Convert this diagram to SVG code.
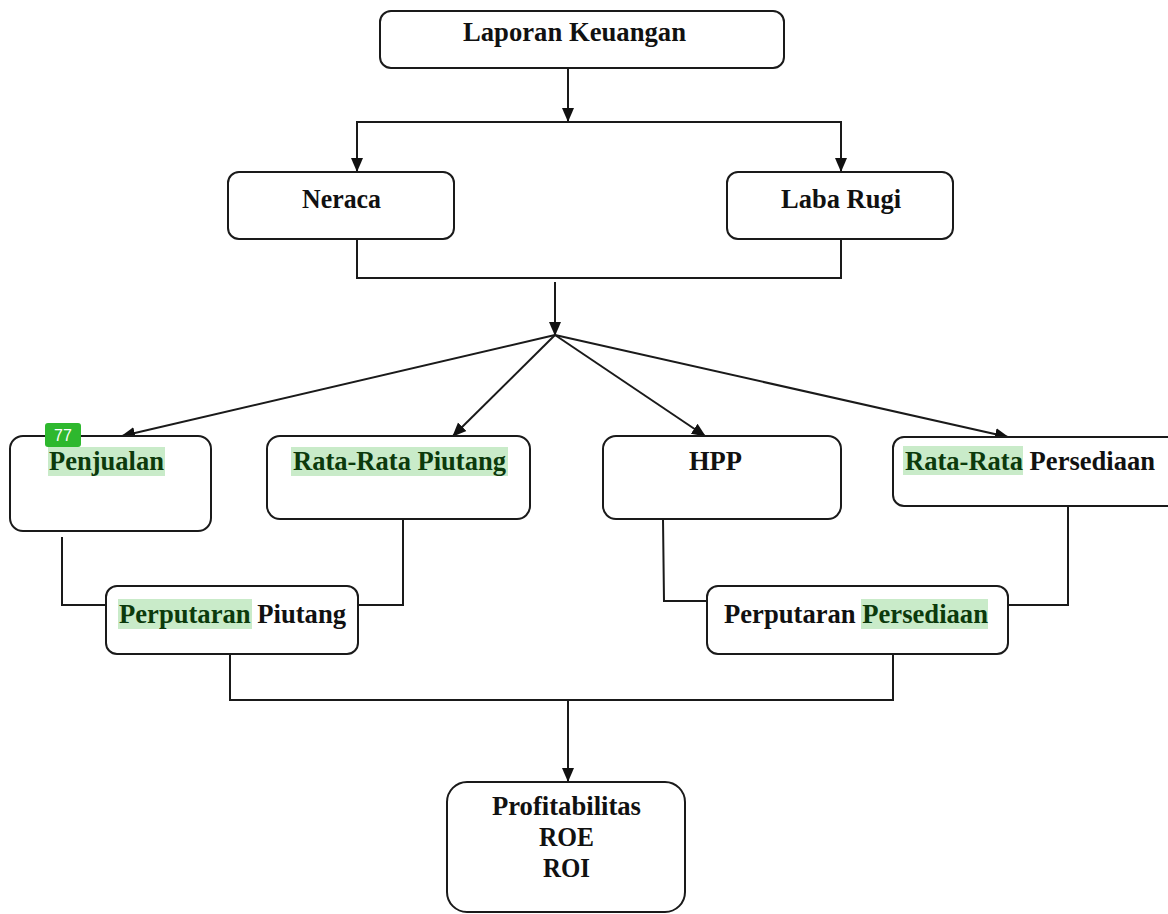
<svg xmlns="http://www.w3.org/2000/svg" width="1168" height="914" viewBox="0 0 1168 914">
<style>
.box{fill:#fff;stroke:#1a1a1a;stroke-width:2}
.ln{fill:none;stroke:#1a1a1a;stroke-width:2}
.t{font-family:"Liberation Serif","Times New Roman",serif;font-weight:bold;font-size:26.5px;fill:#111}
.hl{fill:#c9ebc9}
.g{fill:#0c3a0c}
</style>
<defs>
<marker id="ah" viewBox="0 0 14 14" refX="13" refY="7" markerWidth="14" markerHeight="14" markerUnits="userSpaceOnUse" orient="auto">
<path d="M0,1 L14,7 L0,13 Z" fill="#111"/>
</marker>
</defs>
<rect width="1168" height="914" fill="#fff"/>
<g id="connectors">
<line class="ln" x1="568" y1="68" x2="568" y2="121" marker-end="url(#ah)"/>
<polyline class="ln" points="357,160 357,122 841,122 841,160"/>
<line class="ln" x1="357" y1="122" x2="357" y2="171" marker-end="url(#ah)"/>
<line class="ln" x1="841" y1="122" x2="841" y2="171" marker-end="url(#ah)"/>
<polyline class="ln" points="357,239 357,278 841,278 841,239"/>
<line class="ln" x1="555" y1="282" x2="555" y2="335" marker-end="url(#ah)"/>
<line class="ln" x1="555" y1="335" x2="122" y2="436" marker-end="url(#ah)"/>
<line class="ln" x1="555" y1="335" x2="453" y2="436" marker-end="url(#ah)"/>
<line class="ln" x1="555" y1="335" x2="705" y2="436" marker-end="url(#ah)"/>
<line class="ln" x1="555" y1="335" x2="1008" y2="437" marker-end="url(#ah)"/>
<polyline class="ln" points="62,537 62,605 106,605"/>
<polyline class="ln" points="403,519 403,605 358,605"/>
<polyline class="ln" points="663,519 664,601 708,601"/>
<polyline class="ln" points="1068,506 1068,605 1008,605"/>
<polyline class="ln" points="230,654 230,700 893,700 893,654"/>
<line class="ln" x1="568" y1="700" x2="568" y2="781" marker-end="url(#ah)"/>
</g>
<g id="laporan">
<rect class="box" x="380" y="11" width="404" height="57" rx="11"/>
<text class="t" x="463" y="41" textLength="223" lengthAdjust="spacingAndGlyphs">Laporan Keuangan</text>
</g>
<g id="neraca">
<rect class="box" x="228" y="172" width="226" height="67" rx="11"/>
<text class="t" x="302" y="208" textLength="79" lengthAdjust="spacingAndGlyphs">Neraca</text>
</g>
<g id="labarugi">
<rect class="box" x="727" y="172" width="226" height="67" rx="11"/>
<text class="t" x="781" y="208" textLength="120" lengthAdjust="spacingAndGlyphs">Laba Rugi</text>
</g>
<g id="penjualan">
<rect class="box" x="10" y="436" width="201" height="95" rx="13"/>
<rect class="hl" x="48" y="447" width="117" height="29"/>
<text class="t g" x="49" y="470" textLength="115" lengthAdjust="spacingAndGlyphs">Penjualan</text>
</g>
<g id="badge">
<rect x="45" y="423" width="36" height="24" rx="3" fill="#2eb82e"/>
<text x="63" y="441" text-anchor="middle" font-family="'Liberation Sans',Arial,sans-serif" font-size="16" fill="#fff">77</text>
</g>
<g id="ratapiutang">
<rect class="box" x="267" y="436" width="263" height="83" rx="13"/>
<rect class="hl" x="291" y="447" width="217" height="29"/>
<text class="t g" x="293" y="470" textLength="213" lengthAdjust="spacingAndGlyphs">Rata-Rata Piutang</text>
</g>
<g id="hpp">
<rect class="box" x="603" y="436" width="238" height="83" rx="13"/>
<text class="t" x="689" y="470" textLength="53" lengthAdjust="spacingAndGlyphs">HPP</text>
</g>
<g id="ratapersediaan">
<rect class="box" x="893" y="437" width="290" height="69" rx="11"/>
<rect class="hl" x="903" y="446" width="120" height="29"/>
<text class="t" x="905" y="470" textLength="250" lengthAdjust="spacingAndGlyphs"><tspan class="g">Rata-Rata</tspan> Persediaan</text>
</g>
<g id="perputaranpiutang">
<rect class="box" x="106" y="586" width="252" height="68" rx="11"/>
<rect class="hl" x="118" y="599" width="134" height="30"/>
<text class="t" x="119" y="623" textLength="227" lengthAdjust="spacingAndGlyphs"><tspan class="g">Perputaran</tspan> Piutang</text>
</g>
<g id="perputaranpersediaan">
<rect class="box" x="707" y="586" width="301" height="68" rx="11"/>
<rect class="hl" x="861" y="599" width="127" height="30"/>
<text class="t" x="724" y="623" textLength="264" lengthAdjust="spacingAndGlyphs">Perputaran <tspan class="g">Persediaan</tspan></text>
</g>
<g id="profitabilitas">
<rect class="box" x="447" y="782" width="238" height="130" rx="20"/>
<text class="t" x="492" y="815" textLength="149" lengthAdjust="spacingAndGlyphs">Profitabilitas</text>
<text class="t" x="539" y="846" textLength="55" lengthAdjust="spacingAndGlyphs">ROE</text>
<text class="t" x="543" y="877" textLength="47" lengthAdjust="spacingAndGlyphs">ROI</text>
</g>
</svg>
